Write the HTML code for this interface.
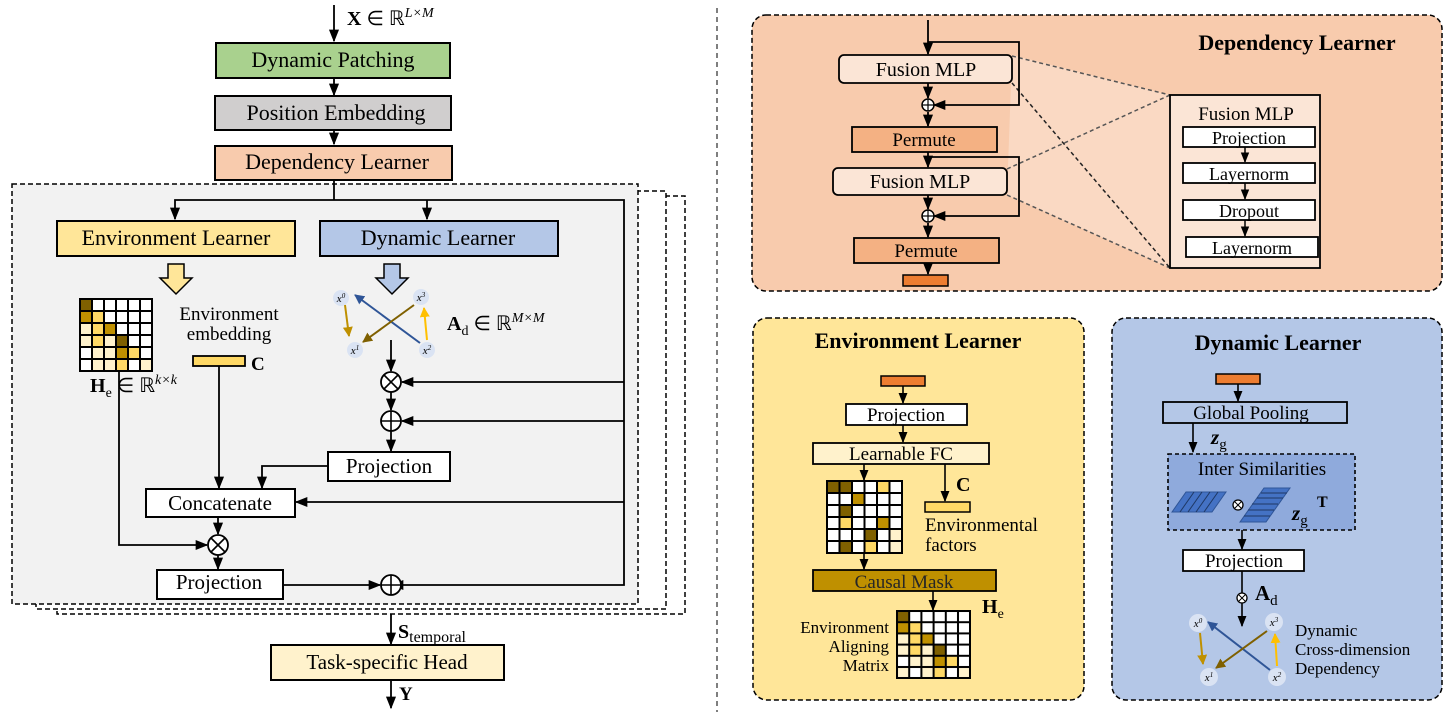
<!DOCTYPE html>
<html><head><meta charset="utf-8">
<style>
html,body{margin:0;padding:0;background:#fff;}
svg{display:block;font-family:"Liberation Serif",serif;}
</style></head><body>
<svg width="1455" height="723" viewBox="0 0 1455 723" xmlns="http://www.w3.org/2000/svg">
<defs>
<marker id="a" viewBox="0 0 10 10" refX="9" refY="5" markerWidth="7" markerHeight="7" orient="auto-start-reverse"><path d="M0,1 L10,5 L0,9 z" fill="#000"/></marker>
<marker id="ab" viewBox="0 0 10 10" refX="9" refY="5" markerWidth="5" markerHeight="5" orient="auto"><path d="M0,0 L10,5 L0,10 z" fill="#2f5597"/></marker>
<marker id="ag" viewBox="0 0 10 10" refX="9" refY="5" markerWidth="5" markerHeight="5" orient="auto"><path d="M0,0 L10,5 L0,10 z" fill="#bf9000"/></marker>
<marker id="ad" viewBox="0 0 10 10" refX="9" refY="5" markerWidth="5" markerHeight="5" orient="auto"><path d="M0,0 L10,5 L0,10 z" fill="#7f6000"/></marker>
<marker id="ay" viewBox="0 0 10 10" refX="9" refY="5" markerWidth="5" markerHeight="5" orient="auto"><path d="M0,0 L10,5 L0,10 z" fill="#ffc000"/></marker>
<pattern id="g12" width="12" height="12" patternUnits="userSpaceOnUse"><rect x="0" y="0" width="12" height="12" fill="none" stroke="#000" stroke-width="2"/></pattern>
<pattern id="g125" width="12.5" height="12" patternUnits="userSpaceOnUse"><rect x="0" y="0" width="12.5" height="12" fill="none" stroke="#000" stroke-width="2"/></pattern>
<pattern id="g121" width="12.2" height="11.2" patternUnits="userSpaceOnUse"><rect x="0" y="0" width="12.2" height="11.2" fill="none" stroke="#000" stroke-width="2"/></pattern>
</defs>

<!-- ===== LEFT ===== -->
<line x1="334" y1="5" x2="334" y2="41" stroke="#000" stroke-width="1.8" marker-end="url(#a)"/>
<text x="347" y="25" font-size="20"><tspan font-weight="bold">X</tspan> ∈ ℝ<tspan dy="-8" font-size="14" font-style="italic">L×M</tspan></text>
<rect x="216" y="43" width="234" height="35" fill="#a9d18e" stroke="#000" stroke-width="2"/>
<text x="333" y="67" font-size="22" text-anchor="middle">Dynamic Patching</text>
<line x1="334" y1="78" x2="334" y2="95" stroke="#000" stroke-width="1.8" marker-end="url(#a)"/>
<rect x="215" y="96" width="236" height="34" fill="#d0cece" stroke="#000" stroke-width="2"/>
<text x="336" y="120" font-size="22" text-anchor="middle">Position Embedding</text>
<line x1="334" y1="130" x2="334" y2="144" stroke="#000" stroke-width="1.8" marker-end="url(#a)"/>
<rect x="215" y="146" width="237" height="34" fill="#f8cbad" stroke="#000" stroke-width="2"/>
<text x="337" y="169" font-size="22" text-anchor="middle">Dependency Learner</text>

<rect x="57" y="196" width="628" height="418" fill="#fff" stroke="#000" stroke-width="1.5" stroke-dasharray="5,3"/>
<rect x="36" y="191" width="630" height="418" fill="#fff" stroke="#000" stroke-width="1.5" stroke-dasharray="5,3"/>
<rect x="12" y="184" width="626" height="420" fill="#f2f2f2" stroke="#000" stroke-width="1.5" stroke-dasharray="5,3"/>

<line x1="334" y1="180" x2="334" y2="200" stroke="#000" stroke-width="1.8"/>
<polyline points="175,219 175,200 624,200 624,585 392,585" fill="none" stroke="#000" stroke-width="1.8" marker-start="url(#a)" marker-end="url(#a)"/>
<line x1="427" y1="200" x2="427" y2="219" stroke="#000" stroke-width="1.8" marker-end="url(#a)"/>
<rect x="57" y="221" width="238" height="35" fill="#ffe699" stroke="#000" stroke-width="2"/>
<text x="176" y="245" font-size="22" text-anchor="middle">Environment Learner</text>
<rect x="320" y="221" width="238" height="35" fill="#b4c7e7" stroke="#000" stroke-width="2"/>
<text x="438" y="245" font-size="22" text-anchor="middle">Dynamic Learner</text>
<!-- hollow arrows -->
<path d="M168,264 h16 v14 h8 l-16,16 l-16,-16 h8 z" fill="#ffe699" stroke="#000" stroke-width="1.5"/>
<path d="M384,264 h16 v14 h8 l-16,16 l-16,-16 h8 z" fill="#b4c7e7" stroke="#000" stroke-width="1.5"/>

<!-- He matrix -->
<svg x="80" y="299" width="73" height="73" overflow="visible">
<rect x="0" y="0" width="72" height="72" fill="#fff"/>
<rect x="0" y="0" width="12" height="12" fill="#7f6000"/>
<rect x="0" y="12" width="12" height="12" fill="#bf9000"/><rect x="12" y="12" width="12" height="12" fill="#ffd966"/>
<rect x="0" y="24" width="12" height="12" fill="#fff2cc"/><rect x="12" y="24" width="12" height="12" fill="#ffd966"/><rect x="24" y="24" width="12" height="12" fill="#bf9000"/>
<rect x="0" y="36" width="12" height="12" fill="#fff2cc"/><rect x="12" y="36" width="12" height="12" fill="#ffd966"/><rect x="24" y="36" width="12" height="12" fill="#fff2cc"/><rect x="36" y="36" width="12" height="12" fill="#7f6000"/>
<rect x="12" y="48" width="12" height="12" fill="#fff2cc"/><rect x="24" y="48" width="12" height="12" fill="#fff2cc"/><rect x="36" y="48" width="12" height="12" fill="#bf9000"/><rect x="48" y="48" width="12" height="12" fill="#ffd966"/>
<rect x="12" y="60" width="12" height="12" fill="#fff2cc"/><rect x="24" y="60" width="12" height="12" fill="#fff2cc"/><rect x="36" y="60" width="12" height="12" fill="#ffd966"/><rect x="60" y="60" width="12" height="12" fill="#fff2cc"/>
<rect x="0" y="0" width="72" height="72" fill="url(#g12)" stroke="#000" stroke-width="2"/>
</svg>
<text x="90" y="392" font-size="20"><tspan font-weight="bold">H</tspan><tspan font-size="14" dy="5">e</tspan><tspan dy="-5"> ∈ ℝ</tspan><tspan dy="-8" font-size="14" font-style="italic">k×k</tspan></text>
<text x="229" y="320" font-size="19" text-anchor="middle">Environment</text>
<text x="229" y="340" font-size="19" text-anchor="middle">embedding</text>
<rect x="193" y="356" width="52" height="10" fill="#ffd966" stroke="#000" stroke-width="1.8"/>
<text x="251" y="370" font-size="19" font-weight="bold">C</text>
<polyline points="119,371 119,545 207,545" fill="none" stroke="#000" stroke-width="1.8" marker-end="url(#a)"/>
<line x1="219" y1="366" x2="219" y2="488" stroke="#000" stroke-width="1.8" marker-end="url(#a)"/>

<!-- dynamic graph left -->
<g font-size="11" font-style="italic" text-anchor="middle">
<circle cx="341" cy="298" r="8" fill="#dae3f3"/><circle cx="421" cy="297" r="8" fill="#dae3f3"/>
<circle cx="355" cy="350" r="8" fill="#dae3f3"/><circle cx="427" cy="350" r="8" fill="#dae3f3"/>
<line x1="345" y1="305" x2="349" y2="336" stroke="#bf9000" stroke-width="2" marker-end="url(#ag)"/>
<line x1="420" y1="343" x2="355" y2="295" stroke="#2f5597" stroke-width="2" marker-end="url(#ab)"/>
<line x1="414" y1="305" x2="363" y2="342" stroke="#7f6000" stroke-width="2" marker-end="url(#ad)"/>
<line x1="427" y1="340" x2="424" y2="308" stroke="#ffc000" stroke-width="2" marker-end="url(#ay)"/>
<text x="341" y="302">x<tspan font-size="7" dy="-4">0</tspan></text>
<text x="421" y="301">x<tspan font-size="7" dy="-4">3</tspan></text>
<text x="355" y="354">x<tspan font-size="7" dy="-4">1</tspan></text>
<text x="427" y="354">x<tspan font-size="7" dy="-4">2</tspan></text>
</g>
<text x="447" y="330" font-size="20"><tspan font-weight="bold">A</tspan><tspan font-size="14" dy="5">d</tspan><tspan dy="-5"> ∈ ℝ</tspan><tspan dy="-8" font-size="14" font-style="italic">M×M</tspan></text>

<line x1="391" y1="340" x2="391" y2="371" stroke="#000" stroke-width="1.8" marker-end="url(#a)"/>
<g fill="#fff" stroke="#000" stroke-width="1.8">
<circle cx="391" cy="382" r="10"/><circle cx="391" cy="421" r="10"/>
<circle cx="218" cy="545" r="10"/><circle cx="391" cy="585" r="10"/>
</g>
<g stroke="#000" stroke-width="1.6">
<line x1="384" y1="375" x2="398" y2="389"/><line x1="398" y1="375" x2="384" y2="389"/>
<line x1="211" y1="538" x2="225" y2="552"/><line x1="225" y1="538" x2="211" y2="552"/>
<line x1="381" y1="421" x2="401" y2="421"/><line x1="391" y1="411" x2="391" y2="431"/>
<line x1="381" y1="585" x2="401" y2="585"/><line x1="391" y1="575" x2="391" y2="595"/>
</g>
<line x1="391" y1="392" x2="391" y2="410" stroke="#000" stroke-width="1.8" marker-end="url(#a)"/>
<line x1="391" y1="431" x2="391" y2="451" stroke="#000" stroke-width="1.8" marker-end="url(#a)"/>
<line x1="624" y1="382" x2="402" y2="382" stroke="#000" stroke-width="1.8" marker-end="url(#a)"/>
<line x1="624" y1="421" x2="402" y2="421" stroke="#000" stroke-width="1.8" marker-end="url(#a)"/>
<line x1="624" y1="502" x2="296" y2="502" stroke="#000" stroke-width="1.8" marker-end="url(#a)"/>
<rect x="328" y="452" width="122" height="29" fill="#fff" stroke="#000" stroke-width="2"/>
<text x="389" y="473" font-size="21" text-anchor="middle">Projection</text>
<polyline points="328,466 262,466 262,488" fill="none" stroke="#000" stroke-width="1.8" marker-end="url(#a)"/>
<rect x="146" y="489" width="149" height="28" fill="#fff" stroke="#000" stroke-width="2"/>
<text x="220" y="510" font-size="21" text-anchor="middle">Concatenate</text>
<line x1="218" y1="517" x2="218" y2="534" stroke="#000" stroke-width="1.8" marker-end="url(#a)"/>
<line x1="218" y1="555" x2="218" y2="569" stroke="#000" stroke-width="1.8" marker-end="url(#a)"/>
<rect x="157" y="570" width="126" height="29" fill="#fff" stroke="#000" stroke-width="2"/>
<text x="219" y="589" font-size="21" text-anchor="middle">Projection</text>
<line x1="283" y1="585" x2="380" y2="585" stroke="#000" stroke-width="1.8" marker-end="url(#a)"/>

<line x1="391" y1="614" x2="391" y2="644" stroke="#000" stroke-width="1.8" marker-end="url(#a)"/>
<text x="398" y="638" font-size="20"><tspan font-weight="bold">S</tspan><tspan font-size="16" dy="4">temporal</tspan></text>
<rect x="271" y="645" width="233" height="35" fill="#fff2cc" stroke="#000" stroke-width="2"/>
<text x="387" y="669" font-size="21" text-anchor="middle">Task-specific Head</text>
<line x1="391" y1="680" x2="391" y2="708" stroke="#000" stroke-width="1.8" marker-end="url(#a)"/>
<text x="399" y="700" font-size="19" font-weight="bold">Y</text>

<line x1="717" y1="8" x2="717" y2="712" stroke="#555" stroke-width="1.5" stroke-dasharray="5,4"/>

<!-- ===== DEPENDENCY LEARNER ===== -->
<rect x="752" y="15" width="690" height="276" rx="14" fill="#f8cbad" stroke="#000" stroke-width="1.5" stroke-dasharray="5,3"/>
<text x="1297" y="50" font-size="22" font-weight="bold" text-anchor="middle">Dependency Learner</text>
<polygon points="1012,55 1170,95 1170,268 1007,195" fill="#fbe5d6" opacity="0.55"/>
<g stroke="#555" stroke-width="1.5" stroke-dasharray="4,3">
<line x1="1012" y1="56" x2="1170" y2="95"/>
<line x1="1007" y1="169" x2="1170" y2="95"/>
<line x1="1007" y1="195" x2="1170" y2="268"/>
<line x1="1012" y1="83" x2="1170" y2="268" stroke="#222"/>
</g>
<line x1="928" y1="20" x2="928" y2="54" stroke="#000" stroke-width="1.8" marker-end="url(#a)"/>
<polyline points="928,42 1019,42 1019,105 934,105" fill="none" stroke="#000" stroke-width="1.8" marker-end="url(#a)"/>
<rect x="839" y="55" width="173" height="28" rx="5" fill="#fbe5d6" stroke="#000" stroke-width="1.8"/>
<text x="926" y="76" font-size="20" text-anchor="middle">Fusion MLP</text>
<line x1="928" y1="83" x2="928" y2="98" stroke="#000" stroke-width="1.8" marker-end="url(#a)"/>
<line x1="928" y1="112" x2="928" y2="126" stroke="#000" stroke-width="1.8" marker-end="url(#a)"/>
<rect x="852" y="127" width="145" height="25" fill="#f4b183" stroke="#000" stroke-width="1.8"/>
<text x="924" y="146" font-size="19" text-anchor="middle">Permute</text>
<line x1="928" y1="152" x2="928" y2="167" stroke="#000" stroke-width="1.8" marker-end="url(#a)"/>
<polyline points="928,157 1019,157 1019,216 934,216" fill="none" stroke="#000" stroke-width="1.8" marker-end="url(#a)"/>
<rect x="833" y="168" width="174" height="27" rx="5" fill="#fbe5d6" stroke="#000" stroke-width="1.8"/>
<text x="920" y="188" font-size="20" text-anchor="middle">Fusion MLP</text>
<line x1="928" y1="195" x2="928" y2="209" stroke="#000" stroke-width="1.8" marker-end="url(#a)"/>
<line x1="928" y1="223" x2="928" y2="237" stroke="#000" stroke-width="1.8" marker-end="url(#a)"/>
<g fill="#fff" stroke="#000" stroke-width="1.5">
<circle cx="928" cy="105" r="6"/><circle cx="928" cy="216" r="6"/>
</g>
<g stroke="#000" stroke-width="1.2">
<line x1="922" y1="105" x2="934" y2="105"/><line x1="928" y1="99" x2="928" y2="111"/>
<line x1="922" y1="216" x2="934" y2="216"/><line x1="928" y1="210" x2="928" y2="222"/>
</g>
<rect x="854" y="238" width="145" height="25" fill="#f4b183" stroke="#000" stroke-width="1.8"/>
<text x="926" y="257" font-size="19" text-anchor="middle">Permute</text>
<line x1="928" y1="263" x2="928" y2="274" stroke="#000" stroke-width="1.8" marker-end="url(#a)"/>
<rect x="903" y="275" width="45" height="11" fill="#ed7d31" stroke="#000" stroke-width="1.5"/>

<rect x="1170" y="95" width="150" height="173" fill="#fbe5d6" stroke="#000" stroke-width="1.8"/>
<text x="1246" y="120" font-size="19" text-anchor="middle">Fusion MLP</text>
<rect x="1183" y="127" width="132" height="20" fill="#fff" stroke="#000" stroke-width="1.8"/>
<text x="1249" y="144" font-size="18" text-anchor="middle">Projection</text>
<rect x="1183" y="163" width="132" height="20" fill="#fff" stroke="#000" stroke-width="1.8"/>
<text x="1249" y="180" font-size="18" text-anchor="middle">Layernorm</text>
<rect x="1183" y="200" width="132" height="20" fill="#fff" stroke="#000" stroke-width="1.8"/>
<text x="1249" y="217" font-size="18" text-anchor="middle">Dropout</text>
<rect x="1186" y="237" width="132" height="20" fill="#fff" stroke="#000" stroke-width="1.8"/>
<text x="1252" y="254" font-size="18" text-anchor="middle">Layernorm</text>
<line x1="1245" y1="147" x2="1245" y2="162" stroke="#000" stroke-width="1.5" marker-end="url(#a)"/>
<line x1="1245" y1="183" x2="1245" y2="199" stroke="#000" stroke-width="1.5" marker-end="url(#a)"/>
<line x1="1245" y1="220" x2="1245" y2="236" stroke="#000" stroke-width="1.5" marker-end="url(#a)"/>

<!-- ===== ENVIRONMENT LEARNER ===== -->
<rect x="753" y="318" width="331" height="382" rx="14" fill="#ffe699" stroke="#000" stroke-width="1.5" stroke-dasharray="5,3"/>
<text x="918" y="348" font-size="22" font-weight="bold" text-anchor="middle">Environment Learner</text>
<rect x="881" y="376" width="44" height="10" fill="#ed7d31" stroke="#000" stroke-width="1.5"/>
<line x1="903" y1="386" x2="903" y2="403" stroke="#000" stroke-width="1.6" marker-end="url(#a)"/>
<rect x="846" y="404" width="121" height="21" fill="#fff" stroke="#000" stroke-width="1.8"/>
<text x="906" y="421" font-size="19" text-anchor="middle">Projection</text>
<line x1="903" y1="425" x2="903" y2="442" stroke="#000" stroke-width="1.6" marker-end="url(#a)"/>
<rect x="813" y="443" width="176" height="21" fill="#fff2cc" stroke="#000" stroke-width="1.8"/>
<text x="901" y="460" font-size="19" text-anchor="middle">Learnable FC</text>
<line x1="864" y1="464" x2="864" y2="480" stroke="#000" stroke-width="1.6" marker-end="url(#a)"/>
<line x1="945" y1="464" x2="945" y2="501" stroke="#000" stroke-width="1.6" marker-end="url(#a)"/>
<text x="956" y="491" font-size="20" font-weight="bold">C</text>
<rect x="925" y="502" width="45" height="10" fill="#ffd966" stroke="#000" stroke-width="1.5"/>
<text x="925" y="531" font-size="19">Environmental</text>
<text x="925" y="551" font-size="19">factors</text>
<svg x="827" y="481" width="76" height="73" overflow="visible">
<rect x="0" y="0" width="75" height="72" fill="#fff"/>
<rect x="0" y="0" width="12.5" height="12" fill="#7f6000"/><rect x="12.5" y="0" width="12.5" height="12" fill="#7f6000"/><rect x="50" y="0" width="12.5" height="12" fill="#ffd966"/>
<rect x="25" y="12" width="12.5" height="12" fill="#bf9000"/>
<rect x="12.5" y="24" width="12.5" height="12" fill="#7f6000"/>
<rect x="12.5" y="36" width="12.5" height="12" fill="#ffd966"/><rect x="50" y="36" width="12.5" height="12" fill="#bf9000"/>
<rect x="37.5" y="48" width="12.5" height="12" fill="#7f6000"/><rect x="62.5" y="48" width="12.5" height="12" fill="#fff2cc"/>
<rect x="12.5" y="60" width="12.5" height="12" fill="#7f6000"/><rect x="37.5" y="60" width="12.5" height="12" fill="#ffd966"/><rect x="62.5" y="60" width="12.5" height="12" fill="#fff2cc"/>
<rect x="0" y="0" width="75" height="72" fill="url(#g125)" stroke="#000" stroke-width="2"/>
</svg>
<line x1="864" y1="554" x2="864" y2="569" stroke="#000" stroke-width="1.6" marker-end="url(#a)"/>
<rect x="813" y="570" width="183" height="21" fill="#bf9000" stroke="#000" stroke-width="1.8"/>
<text x="904" y="588" font-size="19" text-anchor="middle" fill="#262626">Causal Mask</text>
<line x1="933" y1="591" x2="933" y2="610" stroke="#000" stroke-width="1.6" marker-end="url(#a)"/>
<text x="982" y="613" font-size="20" font-weight="bold">H<tspan font-size="14" font-weight="normal" dy="5">e</tspan></text>
<svg x="897" y="611" width="74" height="68" overflow="visible">
<rect x="0" y="0" width="73" height="67" fill="#fff"/>
<rect x="0" y="0" width="12.2" height="11.2" fill="#7f6000"/>
<rect x="0" y="11.2" width="12.2" height="11.2" fill="#bf9000"/><rect x="12.2" y="11.2" width="12.2" height="11.2" fill="#ffd966"/>
<rect x="0" y="22.4" width="12.2" height="11.2" fill="#fff2cc"/><rect x="12.2" y="22.4" width="12.2" height="11.2" fill="#ffd966"/><rect x="24.4" y="22.4" width="12.2" height="11.2" fill="#bf9000"/>
<rect x="0" y="33.6" width="12.2" height="11.2" fill="#fff2cc"/><rect x="12.2" y="33.6" width="12.2" height="11.2" fill="#ffd966"/><rect x="24.4" y="33.6" width="12.2" height="11.2" fill="#fff2cc"/><rect x="36.6" y="33.6" width="12.2" height="11.2" fill="#7f6000"/>
<rect x="12.2" y="44.8" width="12.2" height="11.2" fill="#fff2cc"/><rect x="24.4" y="44.8" width="12.2" height="11.2" fill="#fff2cc"/><rect x="36.6" y="44.8" width="12.2" height="11.2" fill="#bf9000"/><rect x="48.8" y="44.8" width="12.2" height="11.2" fill="#ffd966"/>
<rect x="0" y="56" width="12.2" height="11.2" fill="#fff2cc"/><rect x="24.4" y="56" width="12.2" height="11.2" fill="#fff2cc"/><rect x="36.6" y="56" width="12.2" height="11.2" fill="#ffd966"/><rect x="61" y="56" width="12.2" height="11.2" fill="#fff2cc"/>
<rect x="0" y="0" width="73" height="67" fill="url(#g121)" stroke="#000" stroke-width="2"/>
</svg>
<text x="889" y="633" font-size="17" text-anchor="end">Environment</text>
<text x="889" y="652" font-size="17" text-anchor="end">Aligning</text>
<text x="889" y="671" font-size="17" text-anchor="end">Matrix</text>

<!-- ===== DYNAMIC LEARNER ===== -->
<rect x="1112" y="318" width="330" height="382" rx="14" fill="#b4c7e7" stroke="#000" stroke-width="1.5" stroke-dasharray="5,3"/>
<text x="1278" y="350" font-size="22" font-weight="bold" text-anchor="middle">Dynamic Learner</text>
<rect x="1216" y="374" width="44" height="10" fill="#ed7d31" stroke="#000" stroke-width="1.5"/>
<line x1="1238" y1="384" x2="1238" y2="401" stroke="#000" stroke-width="1.6" marker-end="url(#a)"/>
<rect x="1163" y="402" width="184" height="21" fill="#b4c7e7" stroke="#000" stroke-width="1.8"/>
<text x="1251" y="419" font-size="19" text-anchor="middle">Global Pooling</text>
<line x1="1193" y1="423" x2="1193" y2="452" stroke="#000" stroke-width="1.6" marker-end="url(#a)"/>
<text x="1211" y="444" font-size="21" font-weight="bold" font-style="italic">z<tspan font-size="15" font-weight="normal" font-style="normal" dy="5">g</tspan></text>
<rect x="1168" y="454" width="187" height="76" fill="#8faadc" stroke="#000" stroke-width="1.6" stroke-dasharray="4,3"/>
<text x="1262" y="475" font-size="19" text-anchor="middle">Inter Similarities</text>
<g fill="#4472c4" stroke="#2f5597" stroke-width="1">
<path d="M1172,512 l14,-20 h40 l-14,20 z"/>
<path d="M1240,522 l24,-34 h26 l-24,34 z"/>
</g>
<g stroke="#1f3864" stroke-width="1">
<line x1="1180" y1="512" x2="1194" y2="492"/><line x1="1188" y1="512" x2="1202" y2="492"/><line x1="1196" y1="512" x2="1210" y2="492"/><line x1="1204" y1="512" x2="1218" y2="492"/>
<line x1="1244" y1="516" x2="1270" y2="516"/><line x1="1248" y1="510" x2="1274" y2="510"/><line x1="1252" y1="504" x2="1278" y2="504"/><line x1="1257" y1="498" x2="1283" y2="498"/><line x1="1261" y1="493" x2="1287" y2="493"/>
</g>
<circle cx="1238" cy="505" r="5" fill="#fff" stroke="#000" stroke-width="1.3"/>
<line x1="1235" y1="502" x2="1241" y2="508" stroke="#000"/><line x1="1241" y1="502" x2="1235" y2="508" stroke="#000"/>
<text x="1292" y="520" font-size="21" font-weight="bold" font-style="italic">z<tspan font-size="15" font-weight="normal" font-style="normal" dy="5">g</tspan></text>
<text x="1317" y="507" font-size="16" font-weight="bold">T</text>
<line x1="1242" y1="530" x2="1242" y2="549" stroke="#000" stroke-width="1.6" marker-end="url(#a)"/>
<rect x="1183" y="550" width="121" height="21" fill="#fff" stroke="#000" stroke-width="1.8"/>
<text x="1244" y="567" font-size="19" text-anchor="middle">Projection</text>
<line x1="1242" y1="571" x2="1242" y2="626" stroke="#000" stroke-width="1.6" marker-end="url(#a)"/>
<circle cx="1242" cy="598" r="5" fill="#fff" stroke="#000" stroke-width="1.3"/>
<line x1="1239" y1="595" x2="1245" y2="601" stroke="#000"/><line x1="1245" y1="595" x2="1239" y2="601" stroke="#000"/>
<text x="1255" y="600" font-size="21" font-weight="bold">A<tspan font-size="15" font-weight="normal" dy="5">d</tspan></text>
<g font-size="11" font-style="italic" text-anchor="middle">
<circle cx="1198" cy="623" r="9" fill="#dae3f3"/><circle cx="1274" cy="622" r="9" fill="#dae3f3"/>
<circle cx="1209" cy="677" r="9" fill="#dae3f3"/><circle cx="1277" cy="677" r="9" fill="#dae3f3"/>
<line x1="1200" y1="633" x2="1203" y2="664" stroke="#bf9000" stroke-width="2" marker-end="url(#ag)"/>
<line x1="1270" y1="670" x2="1208" y2="622" stroke="#2f5597" stroke-width="2" marker-end="url(#ab)"/>
<line x1="1267" y1="631" x2="1216" y2="668" stroke="#7f6000" stroke-width="2" marker-end="url(#ad)"/>
<line x1="1277" y1="666" x2="1275" y2="634" stroke="#ffc000" stroke-width="2" marker-end="url(#ay)"/>
<text x="1198" y="627">x<tspan font-size="7" dy="-4">0</tspan></text>
<text x="1274" y="626">x<tspan font-size="7" dy="-4">3</tspan></text>
<text x="1209" y="681">x<tspan font-size="7" dy="-4">1</tspan></text>
<text x="1277" y="681">x<tspan font-size="7" dy="-4">2</tspan></text>
</g>
<text x="1295" y="636" font-size="17">Dynamic</text>
<text x="1295" y="655" font-size="17">Cross-dimension</text>
<text x="1295" y="674" font-size="17">Dependency</text>
</svg>
</body></html>
